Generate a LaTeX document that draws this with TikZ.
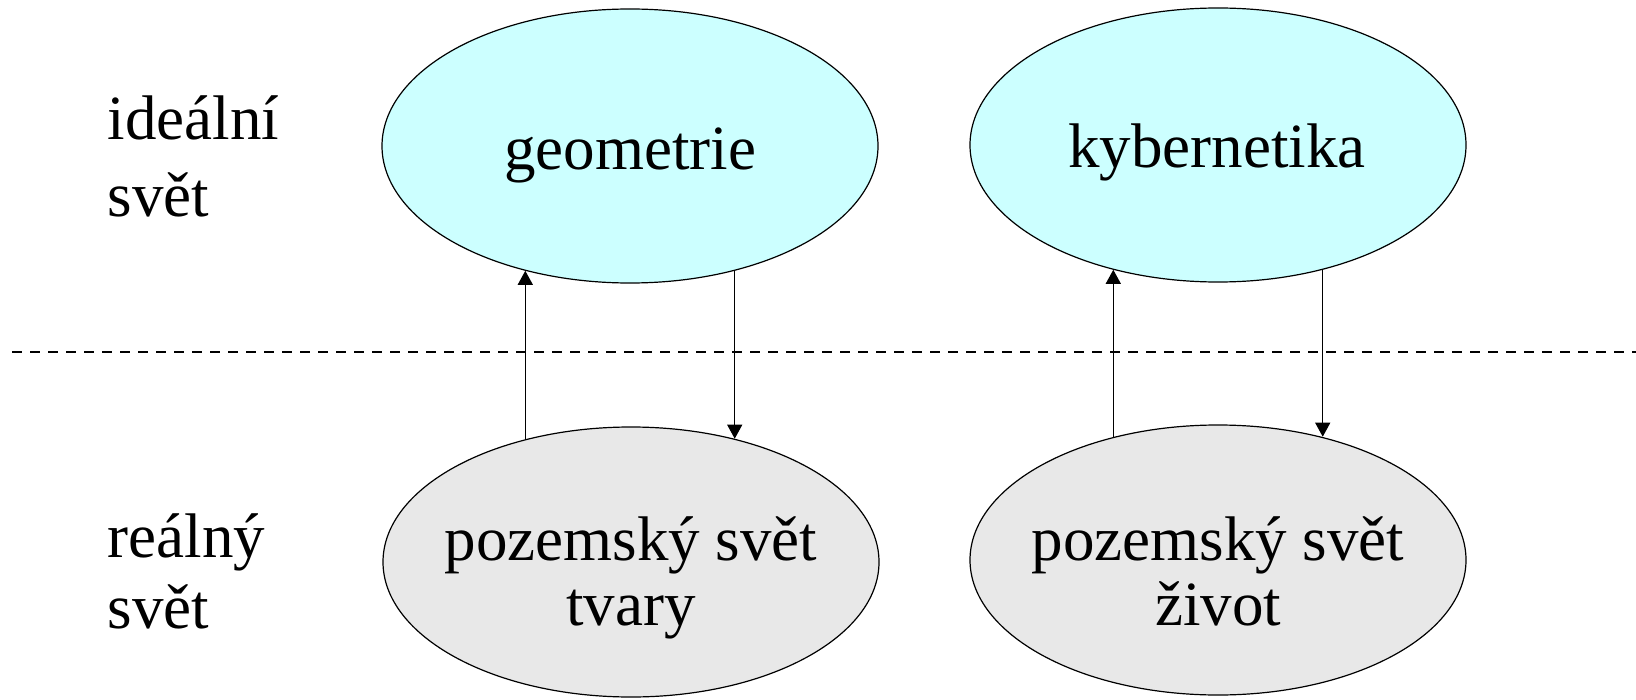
\documentclass[tikz,border=0pt]{standalone}
\usepackage{fontspec}
\setmainfont{Liberation Serif}
\usetikzlibrary{shapes.geometric,arrows.meta}
\definecolor{idealFill}{HTML}{CCFFFF}
\definecolor{realFill}{HTML}{E8E8E8}
\newcommand{\worldSize}[0]{\fontsize{31.5}{36}\selectfont}

\begin{document}
\begin{tikzpicture}[x=0.5pt, y=-0.5pt, line width=0.6pt]
  \tikzset{
    world/.style={ellipse, draw, minimum width=248pt, minimum height=137pt, inner sep=0pt},
    ideal/.style={world, fill=idealFill},
    real/.style={world, fill=realFill, minimum height=135pt},
    caption/.style={anchor=base, inner sep=0pt, font=\worldSize},
    side/.style={caption, anchor=base west},
    arr/.style={-{Triangle[length=7pt, width=7.5pt]}}
  }
  \useasboundingbox (0,0) rectangle (1636,700);

  % the two worlds
  \node[ideal] (geo) at (630,146) {};
  \node[ideal] (kyb) at (1218,145) {};
  \node[real] (tva) at (631,562) {};
  \node[real] (ziv) at (1218,560) {};

  \node[caption] (geoText) at (630,170) {geometrie};
  \node[caption] (kybText) at (1217,168) {kybernetika};
  \node[caption] (tvaTop) at (631,560) {pozemský svět};
  \node[caption] (tvaBot) at (631,625) {tvary};
  \node[caption] (zivTop) at (1218,560) {pozemský svět};
  \node[caption] (zivBot) at (1218,625) {život};

  % row labels
  \node[side] (idealA) at (107,140) {ideální};
  \node[side] (idealB) at (107,217) {svět};
  \node[side] (realA) at (107,557) {reálný};
  \node[side] (realB) at (107,628) {svět};

  % border between them
  \coordinate (sepL) at (12,352);
  \coordinate (sepR) at (1636,352);
  \draw[dashed, dash pattern=on 5pt off 4pt] (sepL) -- (sepR);

  % abstraction up, application down
  \draw[arr] (geo.230 |- tva.130) -- (geo.230);
  \draw[arr] (geo.310) -- (geo.310 |- tva.50);
  \draw[arr] (kyb.230 |- ziv.130) -- (kyb.230);
  \draw[arr] (kyb.310) -- (kyb.310 |- ziv.50);
\end{tikzpicture}
\end{document}
